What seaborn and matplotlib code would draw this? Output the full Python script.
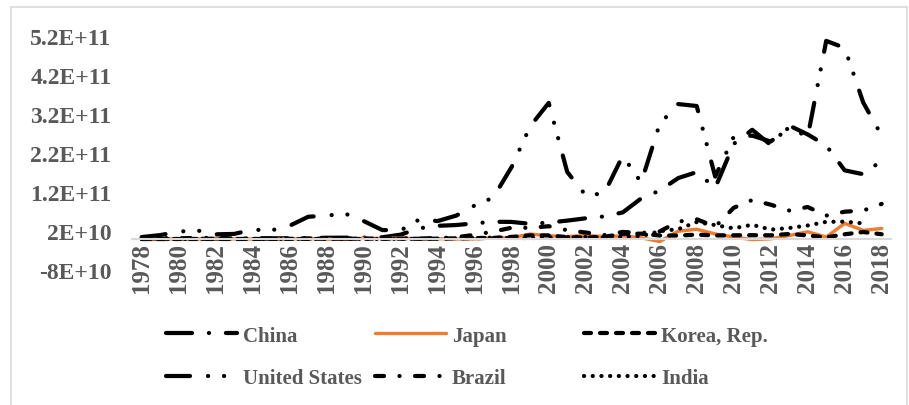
import numpy as np
import matplotlib
matplotlib.use("Agg")
import matplotlib.pyplot as plt
from matplotlib.patches import Rectangle
import seaborn as sns

# Foreign direct investment, net inflows (billions of current US$)
years = list(range(1978, 2019))

china = [0.0, 0.1, 0.06, 0.27, 0.43, 0.64, 1.26, 1.66, 1.88, 2.31, 3.19, 3.39,
         3.49, 4.37, 11.2, 27.5, 33.8, 35.8, 40.2, 44.2, 43.8, 38.8,
         42.1, 47.1, 53.1, 57.9, 68.1, 104.1, 124.1, 156.2, 171.5, 131.1,
         243.7, 280.1, 241.2, 290.9, 268.1, 240.0, 176.0, 166.1, 201.0]
japan = [0.0, 0.24, 0.28, 0.19, 0.44, 0.42, 0.0, 0.64, 0.23, 1.17, -0.49, -1.05,
         1.8, 1.3, 2.7, 0.1, 0.9, 0.0, 0.2, 3.2, 3.2, 12.7,
         8.2, 6.2, 9.1, 6.2, 7.8, 3.2, -6.5, 20.0, 25.0, 13.0,
         5.0, -1.5, 0.5, 9.0, 18.5, 5.0, 40.0, 22.0, 27.0]
korea = [0.1, 0.04, 0.02, 0.1, 0.07, 0.07, 0.1, 0.23, 0.46, 0.6, 0.87, 0.76,
         0.79, 1.18, 0.73, 0.59, 0.81, 1.78, 2.33, 2.84, 5.41, 9.33,
         9.28, 4.5, 3.5, 5.5, 13.3, 13.6, 9.0, 8.8, 11.2, 9.0,
         9.5, 9.8, 9.5, 12.8, 9.3, 4.1, 12.1, 17.9, 12.2]
united_states = [5.0, 10.0, 19.0, 22.0, 12.0, 13.0, 24.0, 22.0, 34.0, 57.0, 60.0, 65.0,
                 46.0, 23.0, 22.0, 50.0, 46.0, 60.0, 86.0, 106.0, 185.0, 289.0,
                 349.0, 172.0, 112.0, 117.0, 213.0, 145.0, 295.0, 346.0, 341.0, 160.0,
                 262.0, 265.0, 250.0, 286.0, 262.0, 508.0, 490.0, 350.0, 265.0]
brazil = [2.2, 2.4, 1.9, 2.5, 3.1, 1.3, 1.5, 1.4, 0.3, 1.2, 2.8, 1.1,
          1.0, 1.1, 2.1, 1.3, 2.2, 4.4, 10.8, 19.0, 28.9, 28.6,
          32.8, 22.5, 16.6, 10.1, 18.1, 15.5, 19.4, 44.6, 50.7, 31.5,
          80.0, 100.0, 88.0, 73.0, 82.0, 60.0, 70.0, 73.0, 90.0]
india = [0.0, 0.05, 0.08, 0.09, 0.07, 0.01, 0.02, 0.1, 0.12, 0.21, 0.09, 0.25,
         0.24, 0.07, 0.28, 0.55, 0.97, 2.14, 2.43, 3.58, 2.63, 2.17,
         3.58, 5.13, 5.21, 3.68, 5.43, 7.27, 20.0, 25.2, 43.4, 35.6,
         27.4, 36.5, 24.0, 28.2, 34.6, 44.0, 44.5, 40.0, np.nan]

series_names = ["China", "Japan", "Korea, Rep.", "United States", "Brazil", "India"]
series_values = [china, japan, korea, united_states, brazil, india]

x_tick_years = years[::2]
y_ticks = [-8e10, 2e10, 1.2e11, 2.2e11, 3.2e11, 4.2e11, 5.2e11]

# line appearance: width and dash pattern given in pixels (on, off, ...)
PT = 72 / 100
styles = {
    "China": dict(color="black", lw=4.2, dashes=(26.0, 16.9, 0.1, 16.9)),
    "Japan": dict(color="#ED7D31", lw=3.4, dashes=None),
    "Korea, Rep.": dict(color="black", lw=4.2, dashes=(7.0, 9.0)),
    "United States": dict(color="black", lw=4.2,
                          dashes=(24.0, 18.0, 0.1, 15.9, 0.1, 17.9)),
    "Brazil": dict(color="black", lw=4.2, dashes=(9.0, 15.5, 0.1, 15.4)),
    "India": dict(color="black", lw=4.2, dashes=(0.1, 8.6)),
}

sns.set_theme(style="white")
plt.rcParams["font.family"] = ["Liberation Serif", "DejaVu Serif"]
plt.rcParams["lines.scale_dashes"] = False

GRAY = "#595959"
W, H = 909, 406
fig = plt.figure(figsize=(W / 100, H / 100), dpi=100)
ax = fig.add_axes([132.45 / W, 1 - 271.2 / H, (890.95 - 132.45) / W, 234 / H])

handles = {}
for name, vals in zip(series_names, series_values):
    st = styles[name]
    sns.lineplot(x=years, y=np.array(vals, dtype=float) * 1e9, ax=ax,
                 color=st["color"], linewidth=st["lw"] * PT,
                 errorbar=None, legend=False)
    line = ax.lines[-1]
    line.set_solid_capstyle("round")
    line.set_dash_capstyle("round")
    line.set_solid_joinstyle("round")
    line.set_dash_joinstyle("round")
    if st["dashes"] is not None:
        line.set_dashes([d * PT for d in st["dashes"]])
    line.set_label(name)
    handles[name] = line

# horizontal axis sits on the zero line
for side in ("top", "right", "left"):
    ax.spines[side].set_visible(False)
ax.spines["bottom"].set_position(("data", 0))
ax.spines["bottom"].set_color("#D9D9D9")
ax.spines["bottom"].set_linewidth(1.5)
ax.patch.set_alpha(0)
ax.grid(False)

ax.set_xlim(1977.5, 2018.5)
ax.set_ylim(-8e10, 5.2e11)
ax.set_xlabel("")
ax.set_ylabel("")


def excel_sci(v):
    mant, exp = f"{v:.1E}".split("E")
    mant = mant.rstrip("0").rstrip(".")
    e = int(exp)
    return f"{mant}E{'+' if e >= 0 else '-'}{abs(e):02d}"


ax.set_xticks(x_tick_years, labels=[str(y) for y in x_tick_years],
              rotation=90, fontweight="bold", fontsize=18, color=GRAY)
ax.set_yticks(y_ticks, labels=[excel_sci(v) for v in y_ticks],
              fontweight="bold", fontsize=17, color=GRAY)
ax.tick_params(axis="x", length=0, pad=2)
ax.tick_params(axis="y", length=0, pad=15)

# legend: three columns of two rows
columns = [["China", "United States"], ["Japan", "Brazil"], ["Korea, Rep.", "India"]]
col_x = [166, 375, 584]
legend_fs = 15
for names, x0 in zip(columns, col_x):
    fig.legend([handles[n] for n in names], names,
               loc="center left", bbox_to_anchor=(x0 / W, 1 - 358 / H),
               frameon=False, borderpad=0, borderaxespad=0,
               handlelength=3.4, handletextpad=0.3, labelspacing=1.1,
               prop=dict(weight="bold", size=legend_fs), labelcolor=GRAY)

fig.patches.append(Rectangle((11 / W, -0.05), (907 - 11) / W, 1.05 - 7.5 / H,
                             transform=fig.transFigure, fill=False,
                             edgecolor="#D9D9D9", linewidth=1.2))

fig.savefig("out.png", dpi=100)
